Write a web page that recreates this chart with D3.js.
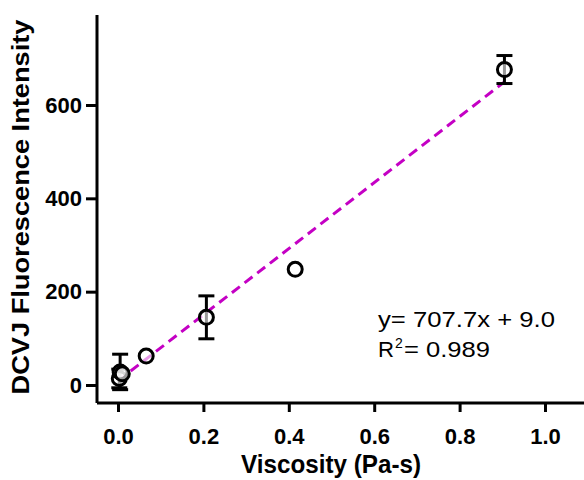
<!DOCTYPE html>
<html>
<head>
<meta charset="utf-8">
<script src="https://cdn.jsdelivr.net/npm/d3@7"></script>
<style>
  body { margin: 0; background: #fff; }
  text { font-family: "Liberation Sans", Arial, sans-serif; }
</style>
</head>
<body>
<div id="chart"></div>
<script>
var viscosity = [0.003, 0.005, 0.010, 0.066, 0.207, 0.415, 0.905];
var intensity = [14, 28, 24, 62, 145, 248, 676];
var errors    = [20, 38, 0, 0, 46, 0, 30];
var xTicks = [0, 0.2, 0.4, 0.6, 0.8, 1.0];
var yTicks = [0, 200, 400, 600];
var slope = 707.7, intercept = 9.0;

var w = 584, h = 480;

var xScale = d3.scaleLinear().domain([0, 1]).range([118, 545]);
var yScale = d3.scaleLinear().domain([0, 600]).range([385, 105]);

var svg = d3.select("#chart").append("svg")
  .attr("width", w).attr("height", h);

var dataset = viscosity.map(function(v, i) {
  return { x: v, y: intensity[i], e: errors[i] };
});

// fit line
var lineX = [0, d3.max(viscosity)];
var line = d3.line()
  .x(function(d) { return xScale(d); })
  .y(function(d) { return yScale(slope * d + intercept); });

svg.append("path")
  .datum(lineX)
  .attr("d", line)
  .attr("fill", "none")
  .attr("stroke", "#c400c4")
  .attr("stroke-width", 3)
  .attr("stroke-dasharray", "10,6");

// axes
var xAxis = d3.axisBottom(xScale).tickValues(xTicks)
  .tickFormat(d3.format(".1f")).tickSize(9).tickPadding(16);
var yAxis = d3.axisLeft(yScale).tickValues(yTicks)
  .tickSize(11).tickPadding(4);

var gx = svg.append("g").attr("transform", "translate(0,403)").call(xAxis);
var gy = svg.append("g").attr("transform", "translate(97,0)").call(yAxis);

gx.select(".domain").attr("d", "M97,0H584");
gy.select(".domain").attr("d", "M0,15V403");

[gx, gy].forEach(function(g) {
  g.selectAll(".domain, line").attr("stroke", "#000").attr("stroke-width", 3);
  g.selectAll("text").attr("font-size", 22).attr("font-weight", "bold")
    .attr("font-family", "Liberation Sans, Arial, sans-serif").attr("fill", "#000");
});

// error bars
var eb = svg.append("g").selectAll("g")
  .data(dataset.filter(function(d) { return d.e > 0; }))
  .enter().append("g");

eb.append("line")
  .attr("x1", function(d) { return xScale(d.x); })
  .attr("x2", function(d) { return xScale(d.x); })
  .attr("y1", function(d) { return yScale(d.y - d.e); })
  .attr("y2", function(d) { return yScale(d.y + d.e); })
  .attr("stroke", "#000").attr("stroke-width", 3);

[-1, 1].forEach(function(s) {
  eb.append("line")
    .attr("x1", function(d) { return xScale(d.x) - 8; })
    .attr("x2", function(d) { return xScale(d.x) + 8; })
    .attr("y1", function(d) { return yScale(d.y + s * d.e); })
    .attr("y2", function(d) { return yScale(d.y + s * d.e); })
    .attr("stroke", "#000").attr("stroke-width", 3);
});

// points
svg.append("g").selectAll("circle")
  .data(dataset)
  .enter().append("circle")
  .attr("cx", function(d) { return xScale(d.x); })
  .attr("cy", function(d) { return yScale(d.y); })
  .attr("r", 7)
  .attr("fill", "#fff")
  .attr("fill-opacity", 0.6)
  .attr("stroke", "#000")
  .attr("stroke-width", 3);

// axis titles
svg.append("text")
  .attr("x", 331).attr("y", 473)
  .attr("text-anchor", "middle")
  .attr("font-size", 25).attr("font-weight", "bold")
  .attr("textLength", 180).attr("lengthAdjust", "spacingAndGlyphs")
  .text("Viscosity (Pa-s)");

svg.append("text")
  .attr("transform", "translate(29,207) rotate(-90)")
  .attr("text-anchor", "middle")
  .attr("font-size", 24).attr("font-weight", "bold")
  .attr("textLength", 375).attr("lengthAdjust", "spacingAndGlyphs")
  .text("DCVJ Fluorescence Intensity");

// equation
svg.append("text")
  .attr("x", 378).attr("y", 327)
  .attr("font-size", 22)
  .attr("textLength", 177).attr("lengthAdjust", "spacingAndGlyphs")
  .text("y= 707.7x + 9.0");

var r2 = svg.append("g").attr("font-size", 22);
r2.append("text").attr("x", 378).attr("y", 357)
  .attr("textLength", 16).attr("lengthAdjust", "spacingAndGlyphs").text("R");
r2.append("text").attr("x", 395).attr("y", 348).attr("font-size", 14).text("2");
r2.append("text").attr("x", 404).attr("y", 357)
  .attr("textLength", 86).attr("lengthAdjust", "spacingAndGlyphs").text("= 0.989");
</script>
</body>
</html>
